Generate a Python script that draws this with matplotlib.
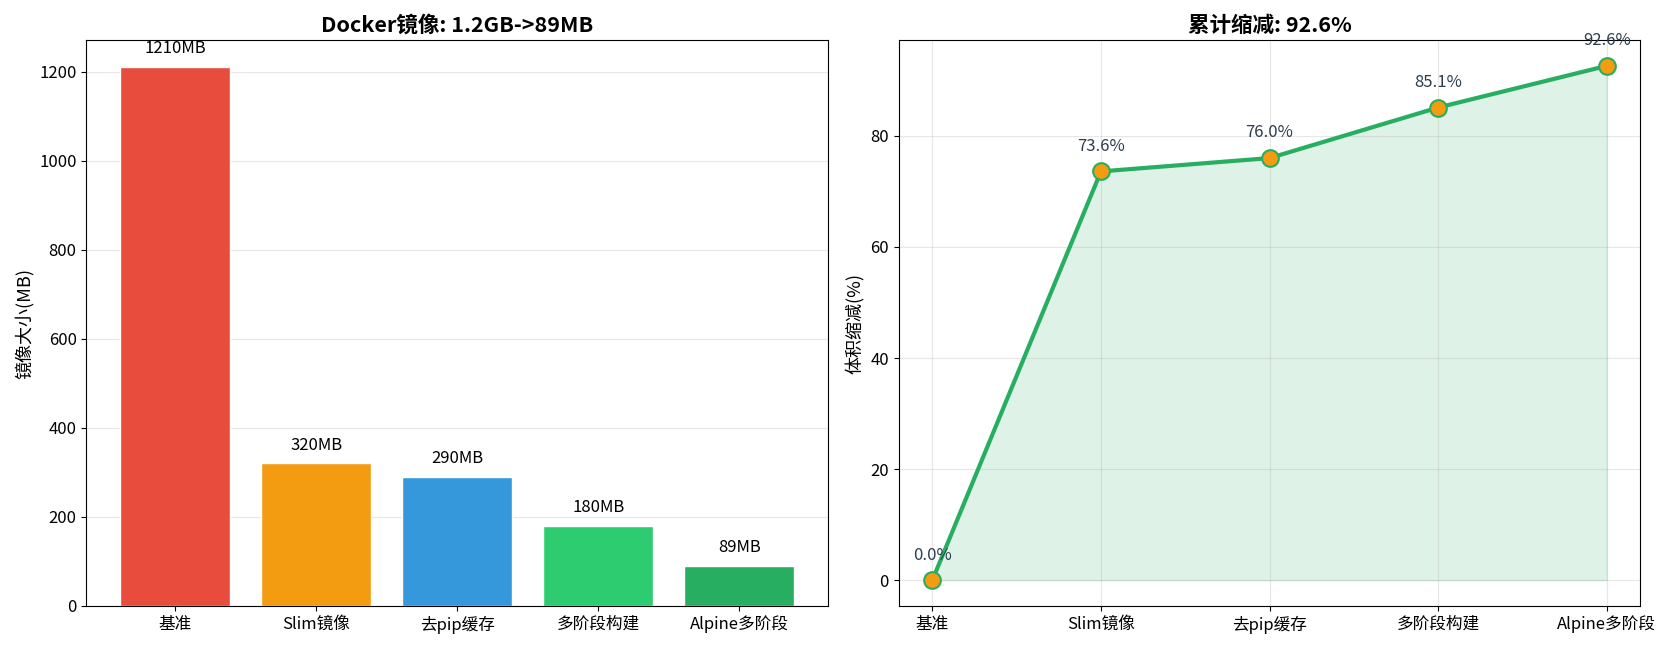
import matplotlib
matplotlib.use('Agg')
import matplotlib.pyplot as plt

plt.rcParams['font.family'] = ['Noto Sans CJK SC', 'DejaVu Sans']
plt.rcParams['axes.unicode_minus'] = False

# 数据
stages = ['基准', 'Slim镜像', '去pip缓存', '多阶段构建', 'Alpine多阶段']
sizes_mb = [1210, 320, 290, 180, 89]
reduction_pct = [0.0, 73.6, 76.0, 85.1, 92.6]
bar_colors = ['#e74c3c', '#f39c12', '#3498db', '#2ecc71', '#27ae60']


def plot_sizes(ax):
    x = range(len(stages))
    bars = ax.bar(x, sizes_mb, color=bar_colors, edgecolor='white', linewidth=1, width=0.78)
    for bar, size in zip(bars, sizes_mb):
        ax.text(bar.get_x() + bar.get_width() / 2, bar.get_height() + 22, f'{size}MB',
                ha='center', va='bottom', fontsize=12)
    ax.set_xticks(list(x))
    ax.set_xticklabels(stages, fontsize=12)
    ax.set_ylabel('镜像大小(MB)', fontsize=13)
    ax.set_title('Docker镜像: 1.2GB->89MB', fontsize=15.5, fontweight='bold')
    ax.grid(True, axis='y', alpha=0.3)
    ax.set_axisbelow(True)
    ax.tick_params(labelsize=12)


def plot_reduction(ax):
    x = list(range(len(stages)))
    ax.plot(x, reduction_pct, '-o', color='#27ae60', linewidth=3,
            markersize=12, markerfacecolor='#f39c12', markeredgecolor='#27ae60',
            markeredgewidth=1.5, zorder=3)
    ax.fill_between(x, reduction_pct, alpha=0.15, color='#27ae60')
    for i, v in enumerate(reduction_pct):
        ax.text(i, v + 3, f'{v:.1f}%', ha='center', va='bottom',
                fontsize=12, color='#2c3e50')
    ax.set_xticks(x)
    ax.set_xticklabels(stages, fontsize=12)
    ax.set_ylabel('体积缩减(%)', fontsize=13)
    ax.set_title('累计缩减: 92.6%', fontsize=15.5, fontweight='bold')
    ax.grid(True, alpha=0.3)
    ax.tick_params(labelsize=12)


def main():
    fig, (ax1, ax2) = plt.subplots(1, 2, figsize=(16.62, 6.48), dpi=100)
    plot_sizes(ax1)
    plot_reduction(ax2)
    fig.subplots_adjust(left=0.052, right=0.987, bottom=0.065, top=0.938, wspace=0.095)
    fig.savefig('out.png', dpi=100)


if __name__ == "__main__":
    main()
